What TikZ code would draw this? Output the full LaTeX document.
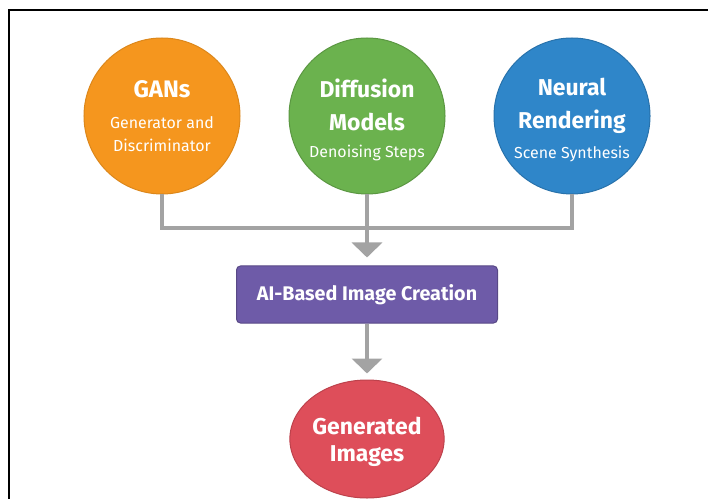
\documentclass[tikz,border=0pt]{standalone}
\usepackage{fontspec}
\setmainfont{Fira Sans}
\usetikzlibrary{arrows.meta,positioning,shapes.geometric}
\definecolor{ganorange}{HTML}{F5961E}
\definecolor{diffgreen}{HTML}{6BB24E}
\definecolor{neuralblue}{HTML}{2F86C9}
\definecolor{stagepurple}{HTML}{6E5BA8}
\definecolor{outred}{HTML}{DE4E5A}
\definecolor{linkgray}{HTML}{A3A3A3}
\newcommand{\headfont}{\fontsize{23}{23}\selectfont\bfseries}
\newcommand{\notefont}{\fontsize{16}{23}\selectfont}
\newcommand{\toppad}[1]{\rule{0pt}{#1}}

\begin{document}
\begin{tikzpicture}[
  x=1bp,y=-1bp,
  node distance=48bp,
  topic/.style={circle,minimum size=156bp,inner sep=0pt,align=center,text=white,line width=1bp,font=\notefont},
  stage/.style={rectangle,rounded corners=4bp,minimum width=261bp,minimum height=57bp,
    fill=stagepurple,draw=stagepurple!80!black,line width=1bp,text=white,font=\fontsize{19.8}{23}\selectfont\bfseries},
  result/.style={ellipse,minimum width=137bp,minimum height=118bp,inner sep=0pt,
    fill=outred,draw=outred!85!black,line width=1bp,text=white,align=center,font=\fontsize{23}{27}\selectfont\bfseries},
  link/.style={draw=linkgray,line width=4bp},
  arr/.style={link,-{Triangle[width=30bp,length=15bp]}}
]
\useasboundingbox (0,0) rectangle (708,499);
\draw[line width=2.5bp] (9,499) -- (9,10) -- (708,10);

\node[topic,fill=diffgreen,draw=diffgreen!85!black] (diff) at (367,116)
  {\toppad{26bp}\headfont Diffusion\\[10bp]\headfont Models\\[4bp]Denoising Steps};
\node[topic,fill=ganorange,draw=ganorange!90!black,left=of diff] (gans)
  {{\fontsize{24}{23}\selectfont\bfseries GANs}\\[8bp]Generator and\\Discriminator};
\node[topic,fill=neuralblue,draw=neuralblue!85!black,right=of diff] (neural)
  {\toppad{26bp}\headfont Neural\\[10bp]\headfont Rendering\\[7bp]Scene Synthesis};
\node[stage] (make) at (367,294.5) {AI-Based Image Creation};
\node[result,below=56bp of make] (out) {\toppad{23bp}Generated\\Images};

\coordinate (hub) at (367,228);
\draw[link] (gans.south) |- (hub) -| (neural.south);
\draw[arr,shorten >=8bp] (diff.south) -- (make.north);
\draw[arr,shorten >=6bp] (make.south) -- (out.north);
\end{tikzpicture}
\end{document}
